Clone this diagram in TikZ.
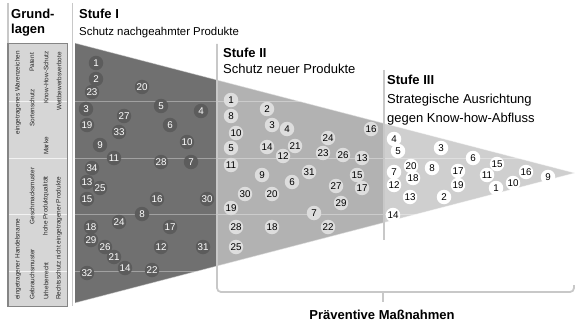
\documentclass[tikz,border=0pt]{standalone}
\usepackage{fontspec}
\setmainfont{Liberation Sans}
\definecolor{gI}{HTML}{707070}
\definecolor{gII}{HTML}{B2B2B2}
\definecolor{gIII}{HTML}{CFCFCF}
\definecolor{cI}{HTML}{5C5C5C}
\definecolor{cII}{HTML}{DDDDDD}
\definecolor{boxfill}{HTML}{D6D6D6}
\definecolor{boxline}{HTML}{858585}
\definecolor{sep}{HTML}{C8C8C8}
\begin{document}
\begin{tikzpicture}[x=1pt,y=-1pt,
  numbase/.style={circle,inner sep=0pt,minimum size=14.5pt,font=\fontsize{9.8}{10}\selectfont},
  numI/.style={numbase,fill=cI,text=white},
  numII/.style={numbase,fill=cII,text=black},
  numIII/.style={numbase,fill=white,text=black},
  boxtext/.style={rotate=90,inner sep=0pt,font=\fontsize{6.4}{7}\selectfont,text=black!85},
  stitle/.style={anchor=base west,inner sep=0pt,font=\fontsize{13}{15}\selectfont\bfseries},
  stext/.style={anchor=base west,inner sep=0pt,font=\fontsize{13}{15}\selectfont},
  sepline/.style={draw=sep,line width=1.8pt},
  rowline/.style={draw=white,opacity=0.35,line width=0.8pt}]
\useasboundingbox (0,0) rectangle (575,326);
% triangle
\coordinate (T1) at (75,43);
\coordinate (T2) at (575,173);
\coordinate (T3) at (75,303);
\begin{scope}
  \clip (T1) -- (T2) -- (T3) -- cycle;
  \fill[gIII] (75,40) rectangle (576,306);
  \fill[gII] (217,40) rectangle (384,306);
  \fill[gI] (75,40) rectangle (217,306);
  \foreach \yy in {101,158,214,271} \draw[rowline] (75,\yy) -- (575,\yy);
\end{scope}
\draw[white,opacity=0.5,line width=0.8pt] (T1) -- (T2) -- (T3);
% separators
\draw[sepline] (8,3) -- (8,43);
\draw[sepline] (72.5,3) -- (72.5,306);
\draw[sepline] (384,70) -- (384,240);
\coordinate (B0) at (217,44);
\coordinate (B1) at (217,292);
\coordinate (B2) at (574,292);
\coordinate (B3) at (574,285);
\coordinate (BM) at (383,292);
\coordinate (BT) at (383,302);
\draw[sepline,rounded corners=4pt] (B0) -- (B1) -- (B2) -- (B3);
\draw[sepline] (BM) -- (BT);
\node[font=\fontsize{13}{15}\selectfont\bfseries,anchor=base,inner sep=0pt] (prev) at (382,319) {Präventive Maßnahmen};
% numbers stage I
\foreach \n/\x/\y in {1/96/63,2/96/79,23/92/92,20/142/87,3/86/109,5/161/106,4/201/111,27/124/116,19/87/125,6/170/125,33/119/132,9/100/145,10/187/142,11/114/158,28/161/162,7/191/162,34/92/168,13/87/182,25/100/188,15/87/199,16/157/199,30/207/199,8/142/214,24/119/222,18/91/227,17/170/227,29/91/240,26/105/247,12/161/247,31/203/247,21/114/257,14/125/268,22/152/270,32/87/273}
  \node[numI] (a\n) at (\x,\y) {\n};
% numbers stage II
\foreach \n/\x/\y in {1/231/100,8/231/116,2/267/109,3/272/125,4/287/129,10/236/133,16/371/129,24/328/138,5/231/148,14/267/147,21/295/146,12/283/156,23/323/153,26/343/155,13/362/158,11/231/165,9/262/175,31/309/172,15/357/175,6/292/182,27/336/186,17/362/188,30/245/194,20/272/194,29/341/203,19/231/208,7/314/213,28/236/227,18/272/227,22/328/227,25/236/247}
  \node[numII] (b\n) at (\x,\y) {\n};
% numbers stage III
\foreach \n/\x/\y in {4/394/139,5/398/151,3/441/148,6/473/158,15/497/164,20/411/166,7/394/172,8/432/168,17/458/171,11/487/175,16/526/172,9/548/177,18/413/178,12/394/185,19/458/185,10/513/183,1/496/188,13/410/197,2/444/197,14/393/215}
  \node[numIII] (c\n) at (\x,\y) {\n};
% left box
\draw[fill=boxfill,draw=boxline,line width=1.6pt] (8,43.5) rectangle (67.5,306.5);
\foreach \yy in {101,158,214,271} \draw[white,opacity=0.7,line width=0.7pt] (9,\yy) -- (66.5,\yy);
\node[boxtext,anchor=east] (g1) at (18,51) {eingetragenes Warenzeichen};
\node[boxtext,anchor=west] (g2) at (18,300) {eingetragener Handelsname};
\node[boxtext,anchor=east] (g3) at (32,53) {Patent};
\node[boxtext] (g4) at (32,108) {Sortenschutz};
\node[boxtext] (g5) at (32,196) {Geschmacksmuster};
\node[boxtext,anchor=west] (g6) at (32,300) {Gebrauchsmuster};
\node[boxtext,anchor=east] (g7) at (46,51) {Know-How-Schutz};
\node[boxtext] (g8) at (46,146) {Marke};
\node[boxtext] (g9) at (46,206) {hohe Produktqualität};
\node[boxtext,anchor=west] (g10) at (46,300) {Urheberrecht};
\node[boxtext,anchor=east] (g11) at (59,52) {Wettbewerbsverbote};
\node[boxtext,anchor=west] (g12) at (59,300) {Rechtsschutz nicht eingetragener Produkte};
% titles
\node[stitle] (gh1) at (11,18.5) {Grund-};
\node[stitle] (gh2) at (11,34) {lagen};
\node[stitle] (s1) at (79,19) {Stufe I};
\node[stext,font=\fontsize{11.4}{14}\selectfont] (s1t) at (79,36) {Schutz nachgeahmter Produkte};
\node[stitle] (s2) at (223,58) {Stufe II};
\node[stext] (s2t) at (223,74) {Schutz neuer Produkte};
\node[stitle] (s3) at (387,85) {Stufe III};
\node[stext] (s3t) at (387,104) {Strategische Ausrichtung};
\node[stext] (s3u) at (387,122) {gegen Know-how-Abfluss};
\end{tikzpicture}
\end{document}
